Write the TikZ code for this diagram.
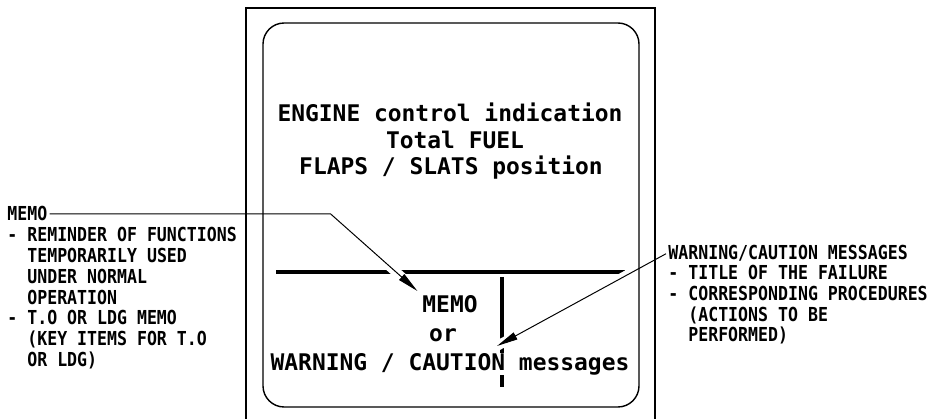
\documentclass[tikz,border=0pt]{standalone}
\usepackage{fontspec}
\newfontfamily\panelfont{DejaVu Sans Mono}
\newfontfamily\notefont[FakeStretch=0.86]{DejaVu Sans Mono}
\usetikzlibrary{positioning, arrows.meta}
\tikzset{
	frame/.style={line width=1pt},
	bar/.style={line width=2.5pt},
	panel/.style={font=\panelfont\bfseries\fontsize{16.3}{19}\selectfont, anchor=base},
	note/.style={font=\notefont\bfseries\fontsize{13.7}{14.8}\selectfont, align=left, anchor=base west, inner sep=1.5pt},
	leader/.style={line width=0.7pt, -{Triangle[length=15pt, width=5.5pt]}, preaction={draw=white, line width=7pt, -}},
}

\begin{document}
\begin{tikzpicture}[x=0.025cm, y=-0.025cm]
	\path[use as bounding box, fill=white] (0,0) rectangle (934,419);

	% dividers of the display
	\draw[bar] (276,272) -- (625,272);
	\draw[bar] (502,277) -- (502,387);

	% upper part
	\node[panel] (engine) at (450,122) {ENGINE control indication};
	\node[panel] (fuel) at (455,148.5) {Total FUEL};
	\node[panel] (flaps) at (451,175) {FLAPS / SLATS position};

	% lower part
	\node[panel] (memo) at (450,313) {MEMO};
	\node[panel] (or) at (443,342) {or};
	\node[panel, fill=white, inner sep=0pt] (warning) at (450,370) {WARNING / CAUTION messages};
	\coordinate (warntip) at (497,346);

	% notes (base = last line)
	\node[note] (memolbl) at (5,221) {MEMO};
	\node[note] (memonotes) at (5,366.6) {- REMINDER OF FUNCTIONS\\\phantom{- }TEMPORARILY USED\\\phantom{- }UNDER NORMAL\\\phantom{- }OPERATION\\- T.O OR LDG MEMO\\\phantom{- }(KEY ITEMS FOR T.O\\\phantom{- }OR LDG)};
	\node[note] (cautionlbl) at (666,260) {WARNING/CAUTION MESSAGES};
	\node[note] (cautionnotes) at (666,342) {- TITLE OF THE FAILURE\\- CORRESPONDING PROCEDURES\\\phantom{- }(ACTIONS TO BE\\\phantom{- }PERFORMED)};

	\draw[leader] (memolbl.east) -- ++(281,0) -- (memo.north west);
	\draw[leader] (cautionlbl.west) -- (warntip);

	% screen frame
	\draw[frame] (246,419) -- (246,8) -- (655,8) -- (655,419);
	\draw[frame, rounded corners=15pt] (263,23) rectangle (639,407);
\end{tikzpicture}
\end{document}
